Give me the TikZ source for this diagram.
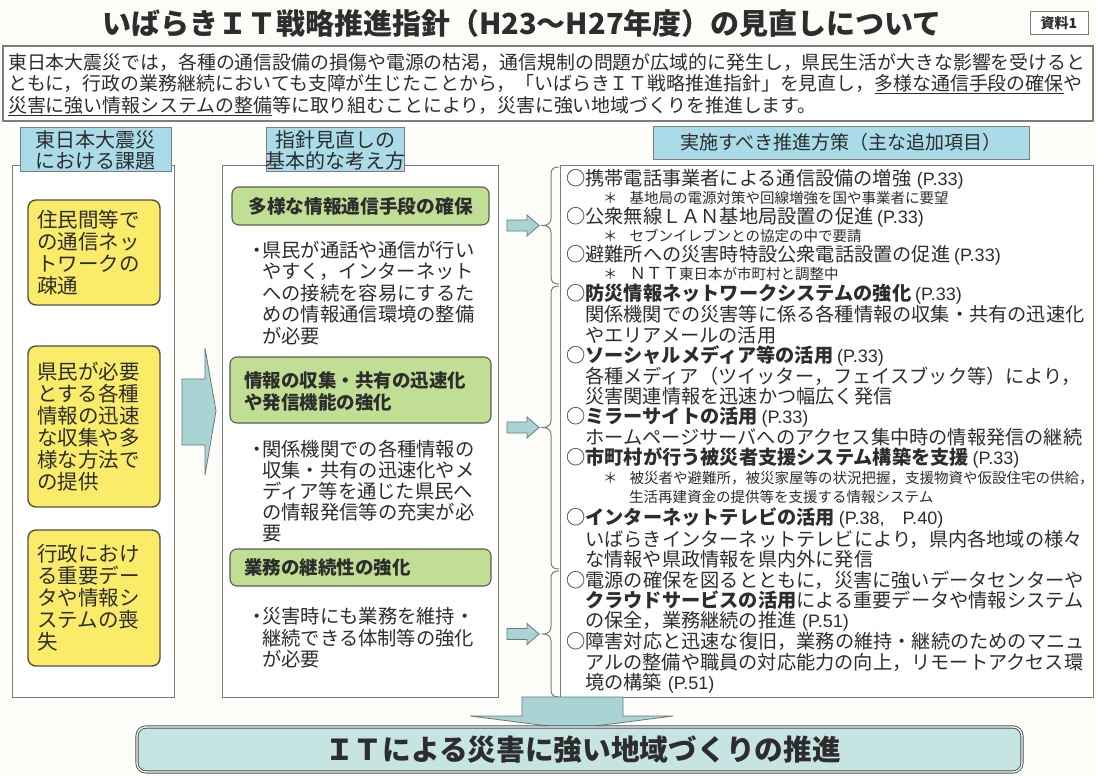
\documentclass[tikz,border=0pt]{standalone}
\usepackage{fontspec}
\setmainfont{Noto Sans CJK JP}
\newfontfamily\lat{Liberation Sans}
\newcommand\fsz[1]{\fontsize{#1}{#1}\selectfont}
\newcommand\js{\rule[-0.12em]{0pt}{1em}}
\newcommand\pnum[1]{{\lat\fontsize{18}{18}\selectfont #1}}
\newcommand\ulj[1]{\smash{\underline{#1}}}
\definecolor{bg}{RGB}{252,252,248}
\definecolor{txt}{RGB}{45,45,45}
\definecolor{pnl}{RGB}{125,125,125}
\definecolor{hdrblue}{RGB}{170,219,232}
\definecolor{yel}{RGB}{250,236,105}
\definecolor{ydark}{RGB}{80,80,70}
\definecolor{grn}{RGB}{192,222,148}
\definecolor{gdark}{RGB}{85,95,80}
\definecolor{arrfill}{RGB}{168,212,214}
\definecolor{arrline}{RGB}{110,120,120}
\definecolor{goalfill}{RGB}{198,228,226}
\definecolor{goalline}{RGB}{70,80,80}
\begin{document}
\begin{tikzpicture}[x=1pt,y=-1pt,
  L/.style={anchor=west,inner sep=0pt,text=txt,execute at begin node=\js},
  C/.style={anchor=center,inner sep=0pt,text=txt,execute at begin node=\js},
  box/.style={anchor=north west,inner sep=0pt,outer sep=0pt},
  panel/.style={box,draw=pnl,line width=1pt,fill=white},
  hdr/.style={box,draw=pnl,line width=1pt,fill=hdrblue},
  ybox/.style={box,draw=ydark,line width=1.4pt,fill=yel,rounded corners=8pt},
  gbox/.style={box,draw=gdark,line width=1.1pt,fill=grn,rounded corners=7pt},
  arr/.style={draw=arrline,line width=0.8pt,fill=arrfill,line join=miter},
  brc/.style={draw=pnl,line width=1pt}]
\fill[bg] (0,0) rectangle (1096,776);
\useasboundingbox (0,0) rectangle (1096,776);

% title
\node[C, font=\fsz{29}\bfseries] (title) at (522,23) {いばらきＩＴ戦略推進指針（H23～H27年度）の見直しについて};
\node[box, draw=pnl, line width=1pt, fill=white, minimum width=58pt, minimum height=23pt] (docbox) at (1030,12) {};
\node[C, font=\fsz{14}\bfseries] (doc) at (docbox.center) {資料1};

% intro
\node[box, draw=pnl, line width=1.2pt, fill=white, minimum width=1090pt, minimum height=75pt] (intro) at (3,46) {};
\node[L, font=\fsz{18.9}] (i1) at (8,62) {東日本大震災では，各種の通信設備の損傷や電源の枯渇，通信規制の問題が広域的に発生し，県民生活が大きな影響を受けると};
\node[L, font=\fsz{18.9}] (i2) at (8,83.5) {ともに，行政の業務継続においても支障が生じたことから，「いばらきＩＴ戦略推進指針」を見直し，\ulj{多様な通信手段の確保}や};
\node[L, font=\fsz{18.9}] (i3) at (8,105) {\ulj{災害に強い情報システムの整備}等に取り組むことにより，災害に強い地域づくりを推進します。};

% left column
\node[panel, minimum width=162pt, minimum height=532pt] (lp) at (12,165) {};
\node[hdr, minimum width=151pt, minimum height=44pt] (lh) at (20,127) {};
\node[C, font=\fsz{20}] (lh1) at (95.5,139.5) {東日本大震災};
\node[C, font=\fsz{20}] (lh2) at (95.5,160.5) {における課題};

\node[ybox, minimum width=132pt, minimum height=105pt] (y1) at (28,200) {};
\node[L, font=\fsz{20.5}] (y1a) at (37,220) {住民間等で};
\node[L, font=\fsz{20.5}] (y1b) at (37,242) {の通信ネッ};
\node[L, font=\fsz{20.5}] (y1c) at (37,264) {トワークの};
\node[L, font=\fsz{20.5}] (y1d) at (37,286) {疎通};

\node[ybox, minimum width=132pt, minimum height=161pt] (y2) at (28,346) {};
\node[L, font=\fsz{20.5}] (y2a) at (37,372) {県民が必要};
\node[L, font=\fsz{20.5}] (y2b) at (37,394) {とする各種};
\node[L, font=\fsz{20.5}] (y2c) at (37,416) {情報の迅速};
\node[L, font=\fsz{20.5}] (y2d) at (37,438) {な収集や多};
\node[L, font=\fsz{20.5}] (y2e) at (37,460) {様な方法で};
\node[L, font=\fsz{20.5}] (y2f) at (37,482) {の提供};

\node[ybox, minimum width=132pt, minimum height=136pt] (y3) at (28,530) {};
\node[L, font=\fsz{20.5}] (y3a) at (37,554) {行政におけ};
\node[L, font=\fsz{20.5}] (y3b) at (37,576) {る重要デー};
\node[L, font=\fsz{20.5}] (y3c) at (37,598) {タや情報シ};
\node[L, font=\fsz{20.5}] (y3d) at (37,620) {ステムの喪};
\node[L, font=\fsz{20.5}] (y3e) at (37,642) {失};

% big arrow left -> middle
\draw[arr] (182,379) -- (205,379) -- (205,348) -- (216,411) -- (205,475) -- (205,445) -- (182,445) -- cycle;

% middle column
\node[panel, minimum width=276pt, minimum height=532pt] (mp) at (222,165) {};
\node[hdr, minimum width=138pt, minimum height=44pt] (mh) at (266,127) {};
\node[C, font=\fsz{20}] (mh1) at (335,139.5) {指針見直しの};
\node[C, font=\fsz{20}] (mh2) at (335,160.5) {基本的な考え方};

\node[gbox, minimum width=257pt, minimum height=38pt] (g1) at (232,187) {};
\node[C, font=\fsz{18.7}\bfseries] (g1t) at (g1.center) {多様な情報通信手段の確保};
\node[L, font=\fsz{19.3}] (b1a) at (252,250) {\makebox[10pt][c]{・}県民が通話や通信が行い};
\node[L, font=\fsz{19.3}] (b1b) at (262,271.5) {やすく，インターネット};
\node[L, font=\fsz{19.3}] (b1c) at (262,293) {への接続を容易にするた};
\node[L, font=\fsz{19.3}] (b1d) at (262,314.5) {めの情報通信環境の整備};
\node[L, font=\fsz{19.3}] (b1e) at (262,336) {が必要};

\node[gbox, minimum width=261pt, minimum height=66pt] (g2) at (230,357) {};
\node[L, font=\fsz{18.5}\bfseries] (g2a) at (244,380) {情報の収集・共有の迅速化};
\node[L, font=\fsz{18.5}\bfseries] (g2b) at (244,402) {や発信機能の強化};
\node[L, font=\fsz{19.3}] (b2a) at (252,449) {\makebox[10pt][c]{・}関係機関での各種情報の};
\node[L, font=\fsz{19.3}] (b2b) at (262,470) {収集・共有の迅速化やメ};
\node[L, font=\fsz{19.3}] (b2c) at (262,491) {ディア等を通じた県民へ};
\node[L, font=\fsz{19.3}] (b2d) at (262,512) {の情報発信等の充実が必};
\node[L, font=\fsz{19.3}] (b2e) at (262,533) {要};

\node[gbox, minimum width=261pt, minimum height=37pt] (g3) at (230,549) {};
\node[L, font=\fsz{18.5}\bfseries] (g3a) at (244,567.5) {業務の継続性の強化};
\node[L, font=\fsz{19.3}] (b3a) at (252,616) {\makebox[10pt][c]{・}災害時にも業務を維持・};
\node[L, font=\fsz{19.3}] (b3b) at (262,638) {継続できる体制等の強化};
\node[L, font=\fsz{19.3}] (b3c) at (262,659) {が必要};

% small arrows
\foreach \ym in {225.5,427.5,634}{
  \draw[arr] (507,\ym-5.5) -- (527,\ym-5.5) -- (527,\ym-10.5) -- (539,\ym) -- (527,\ym+10.5) -- (527,\ym+5.5) -- (507,\ym+5.5) -- cycle;
}

% right column
\node[box, draw=pnl, line width=1pt, fill=white, minimum width=533pt, minimum height=532pt] (rp) at (560,165) {};
\node[hdr, minimum width=376pt, minimum height=33pt] (rh) at (653,126) {};
\node[C, font=\fsz{19}] (rht) at (rh.center) {実施すべき推進方策（主な追加項目）};

% braces
\foreach \yt/\ym/\yb in {167/225.5/284, 286/427.5/569, 571/634/697}{
  \draw[brc] (559,\yt) .. controls (553,\yt) and (551,\yt+2) .. (551,\yt+8) -- (551,\ym-7)
     .. controls (551,\ym-2) and (547,\ym) .. (543,\ym)
     .. controls (547,\ym) and (551,\ym+2) .. (551,\ym+7) -- (551,\yb-8)
     .. controls (551,\yb-2) and (553,\yb) .. (559,\yb);
}

\node[L, font=\fsz{19.2}] (r1) at (566,179) {○携帯電話事業者による通信設備の増強\hspace{0.3em}\pnum{(P.33)}};
\node[L, font=\fsz{14.5}] (r2) at (603,198) {＊\hspace{12pt}基地局の電源対策や回線増強を国や事業者に要望};
\node[L, font=\fsz{19.2}] (r3) at (566,217) {○公衆無線ＬＡＮ基地局設置の促進\hspace{0.2em}\pnum{(P.33)}};
\node[L, font=\fsz{14.5}] (r4) at (603,236) {＊\hspace{12pt}セブンイレブンとの協定の中で要請};
\node[L, font=\fsz{19.2}] (r5) at (566,255) {○避難所への災害時特設公衆電話設置の促進\hspace{0.2em}\pnum{(P.33)}};
\node[L, font=\fsz{14.5}] (r6) at (603,274) {＊\hspace{12pt}{\fsz{16.5}ＮＴＴ}東日本が市町村と調整中};
\node[L, font=\fsz{19.2}] (r7) at (566,294) {○\textbf{防災情報ネットワークシステムの強化}\hspace{0.2em}\pnum{(P.33)}};
\node[L, font=\fsz{19.2}] (r8) at (585,314.5) {関係機関での災害等に係る各種情報の収集・共有の迅速化};
\node[L, font=\fsz{19.2}] (r9) at (585,335) {やエリアメールの活用};
\node[L, font=\fsz{19.2}] (r10) at (566,355.5) {○\textbf{ソーシャルメディア等の活用}\hspace{0.2em}\pnum{(P.33)}};
\node[L, font=\fsz{19.2}] (r11) at (585,376) {各種メディア（ツイッター，フェイスブック等）により，};
\node[L, font=\fsz{19.2}] (r12) at (585,396.5) {災害関連情報を迅速かつ幅広く発信};
\node[L, font=\fsz{19.2}] (r13) at (566,417) {○\textbf{ミラーサイトの活用}\hspace{0.2em}\pnum{(P.33)}};
\node[L, font=\fsz{19.2}] (r14) at (585,437.5) {ホームページサーバへのアクセス集中時の情報発信の継続};
\node[L, font=\fsz{19.2}] (r15) at (566,458) {○\textbf{市町村が行う被災者支援システム構築を支援}\hspace{0.2em}\pnum{(P.33)}};
\node[L, font=\fsz{14.5}] (r16) at (603,478) {＊\hspace{12pt}被災者や避難所，被災家屋等の状況把握，支援物資や仮設住宅の供給，};
\node[L, font=\fsz{14.5}] (r17) at (629,497) {生活再建資金の提供等を支援する情報システム};
\node[L, font=\fsz{19.2}] (r18) at (566,518) {○\textbf{インターネットテレビの活用}\hspace{0.2em}\pnum{(P.38,\hspace{1em}P.40)}};
\node[L, font=\fsz{19.2}] (r19) at (585,539) {いばらきインターネットテレビにより，県内各地域の様々};
\node[L, font=\fsz{19.2}] (r20) at (585,559.5) {な情報や県政情報を県内外に発信};
\node[L, font=\fsz{19.2}] (r21) at (566,580) {○電源の確保を図るとともに，災害に強いデータセンターや};
\node[L, font=\fsz{19.2}] (r22) at (585,600.5) {\textbf{クラウドサービスの活用}による重要データや情報システム};
\node[L, font=\fsz{19.2}] (r23) at (585,621) {の保全，業務継続の推進\hspace{0.3em}\pnum{(P.51)}};
\node[L, font=\fsz{19.2}] (r24) at (566,641.5) {○障害対応と迅速な復旧，業務の維持・継続のためのマニュ};
\node[L, font=\fsz{19.2}] (r25) at (585,662) {アルの整備や職員の対応能力の向上，リモートアクセス環};
\node[L, font=\fsz{19.2}] (r26) at (585,682.5) {境の構築\hspace{0.3em}\pnum{(P.51)}};

% down arrow
\draw[arr] (522,697) -- (623,697) -- (623,716) -- (673,716) -- (572,729) -- (470,716) -- (522,716) -- cycle;

% goal box
\node[box, draw=goalline, line width=0.9pt, double=white, double distance=1.3pt, fill=goalfill, rounded corners=9pt, minimum width=885pt, minimum height=45pt] (goal) at (137,727) {};
\node[C, font=\fsz{28.7}\bfseries] (goalt) at (583,750) {ＩＴによる災害に強い地域づくりの推進};
\end{tikzpicture}
\end{document}
